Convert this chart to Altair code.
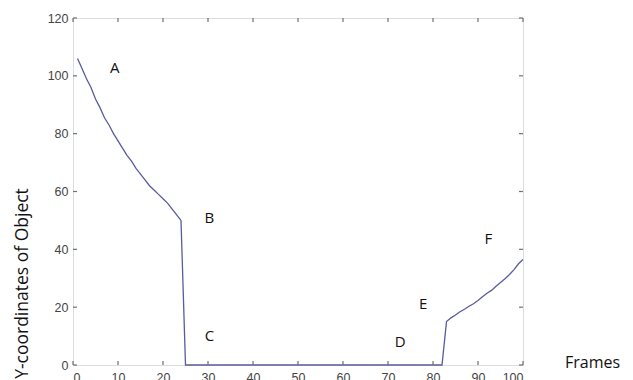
import altair as alt
import pandas as pd

# Line data (frame, y-coordinate)
frames = list(range(1, 101))
y_start = [106, 102.5, 99, 96, 92, 89, 85.5, 83, 80, 77.5, 75, 72.5, 70.5, 68,
           66, 64, 62, 60.5, 59, 57.5, 56, 54, 52, 50]            # frames 1-24
y_zero = [0] * (82 - 25 + 1)                                         # frames 25-82
y_end = [15, 16.3, 17.3, 18.4, 19.3, 20.3, 21.2, 22.3, 23.6, 24.8, 25.8,
         27.2, 28.5, 29.8, 31.3, 33, 35, 36.5]                       # frames 83-100
y_values = y_start + y_zero + y_end

# Annotation letters
label_text = ["A", "B", "C", "D", "E", "F"]
label_x = [9.3, 30.3, 30.3, 72.7, 77.8, 92.3]
label_y = [102.6, 51, 10, 7.9, 21, 43.7]

x_ticks = [0, 10, 20, 30, 40, 50, 60, 70, 80, 90, 100]
y_ticks = [0, 20, 40, 60, 80, 100, 120]

W, H = 450, 347

line_df = pd.DataFrame({"frame": frames, "y": y_values})
lab_df = pd.DataFrame({"t": label_text, "x": label_x, "y": label_y})
xt_df = pd.DataFrame({"v": x_ticks})
yt_df = pd.DataFrame({"v": y_ticks})

xscale = alt.Scale(domain=[0, 100], nice=False)
yscale = alt.Scale(domain=[0, 120], nice=False)

xaxis = alt.Axis(values=x_ticks, ticks=False, domain=False, grid=False,
                 labelPadding=6, labelFontSize=12.5, labelFont="Liberation Sans",
                 labelColor="#444444", title="Frames", titleFont="Open Sans",
                 titleFontSize=16, titleFontWeight="normal", titleColor="#111111",
                 titleX=519, titleY=-3, titleAlign="center", titleBaseline="middle",
                 titleAnchor="start")
yaxis = alt.Axis(values=y_ticks, ticks=False, domain=False, grid=False,
                 labelPadding=5, labelFontSize=12.5, labelFont="Liberation Sans",
                 labelColor="#444444", title="Y-coordinates of Object",
                 titleFont="Open Sans", titleFontSize=17.5, titleFontWeight="normal",
                 titleColor="#111111", titleX=-51, titleY=265, titleAngle=270,
                 titleAlign="center", titleBaseline="middle", titleAnchor="start")

line = alt.Chart(line_df).mark_line(color="#5a5a9e", strokeWidth=1.3).encode(
    x=alt.X("frame:Q", scale=xscale, axis=xaxis),
    y=alt.Y("y:Q", scale=yscale, axis=yaxis),
)

tick_style = dict(color="#707070", strokeWidth=1.2)
xt_bottom = alt.Chart(xt_df).mark_rule(**tick_style).encode(
    x=alt.X("v:Q", scale=xscale), y=alt.value(H), y2=alt.value(H - 4))
xt_top = alt.Chart(xt_df).mark_rule(**tick_style).encode(
    x=alt.X("v:Q", scale=xscale), y=alt.value(0), y2=alt.value(4))
yt_left = alt.Chart(yt_df).mark_rule(**tick_style).encode(
    y=alt.Y("v:Q", scale=yscale), x=alt.value(0), x2=alt.value(4))
yt_right = alt.Chart(yt_df).mark_rule(**tick_style).encode(
    y=alt.Y("v:Q", scale=yscale), x=alt.value(W), x2=alt.value(W - 4))

labels = alt.Chart(lab_df).mark_text(font="Open Sans", fontSize=15,
                                     color="#111111", align="center",
                                     baseline="middle").encode(
    x=alt.X("x:Q", scale=xscale), y=alt.Y("y:Q", scale=yscale), text="t:N")

chart = alt.layer(line, xt_bottom, xt_top, yt_left, yt_right, labels).properties(
    width=W, height=H,
    autosize=alt.AutoSizeParams(type="none"),
    padding={"left": 65, "top": 10, "right": 102, "bottom": 15},
).configure_view(stroke="#707070", strokeWidth=1.2).configure(background="white")

chart.save("out.html", embed_options={"renderer": "svg", "actions": False})
